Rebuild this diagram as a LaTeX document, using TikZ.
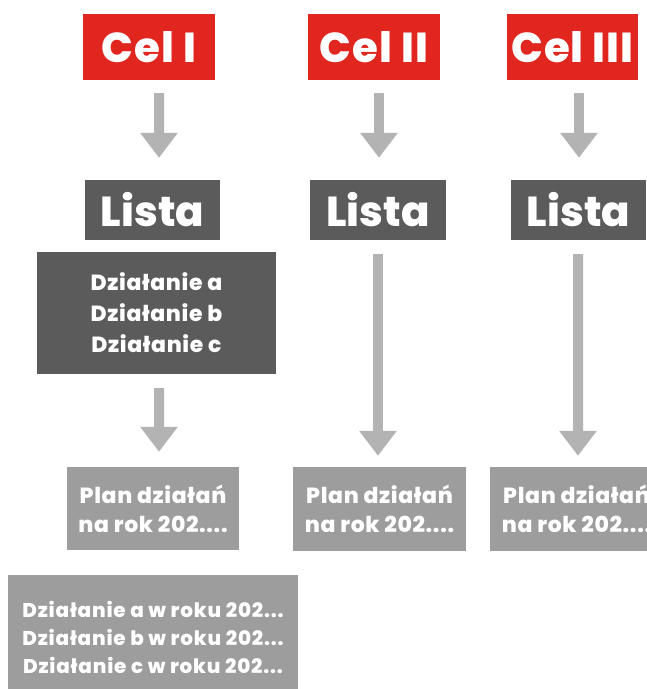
\documentclass[tikz,border=0pt]{standalone}
\usepackage{fontspec}
\setmainfont{Poppins}[BoldFont={Poppins ExtraBold}]
\usetikzlibrary{arrows.meta,calc}
\definecolor{celred}{HTML}{E0261F}
\definecolor{darkbox}{HTML}{5B5B5B}
\definecolor{lightbox}{HTML}{9D9D9D}
\definecolor{arrowgray}{HTML}{B3B3B3}
\begin{document}
\begin{tikzpicture}[x=1bp,y=1bp,
  box/.style={rectangle,inner sep=0pt,text=white,align=center,font=\bfseries},
  celbox/.style={box,fill=celred,minimum width=132bp,minimum height=66bp,font=\bfseries\fontsize{42}{46}\selectfont\addfontfeatures{LetterSpace=2.5}},
  listabox/.style={box,fill=darkbox,minimum width=135bp,minimum height=60bp,font=\bfseries\fontsize{42}{46}\selectfont},
  actbox/.style={box,fill=darkbox,minimum width=239bp,minimum height=122bp,font=\bfseries\fontsize{22}{31}\selectfont\addfontfeatures{LetterSpace=3}},
  planbox/.style={box,fill=lightbox,minimum width=173bp,minimum height=84bp,font=\bfseries\fontsize{22}{29}\selectfont\addfontfeatures{LetterSpace=3}},
  finalbox/.style={box,fill=lightbox,minimum width=290bp,minimum height=125bp,font=\bfseries\fontsize{20}{28}\selectfont\addfontfeatures{LetterSpace=4}},
  blk/.style={draw=arrowgray,line width=10bp,-{Triangle[width=36bp,length=25bp,fill=arrowgray]}}
]
\useasboundingbox (0,0) rectangle (647,-689);
\clip (0,0) rectangle (647,-689);
\node[celbox] (c1) at (149,-47) {Cel I};
\node[celbox] (c2) at (374,-47) {Cel II};
\node[celbox,minimum width=131bp] (c3) at (572.5,-47) {Cel III};
\node[listabox] (l1) at (152.5,-210) {Lista};
\node[listabox,minimum width=136bp] (l2) at (378,-210) {Lista};
\node[listabox] (l3) at (578.5,-210) {Lista};
\node[actbox] (d1) at (156.5,-313) {Działanie a\\Działanie b\\Działanie c};
\node[planbox,minimum width=172bp,minimum height=83bp] (p1) at (153,-508.5) {Plan działań\\na rok 202....};
\node[planbox] (p2) at (379.5,-509) {Plan działań\\na rok 202....};
\node[planbox] (p3) at (576.5,-509) {Plan działań\\na rok 202....};
\node[finalbox] (f1) at (153,-637.5) {Działanie a w roku 202...\\Działanie b w roku 202...\\Działanie c w roku 202...};
\draw[blk] ($(c1.south)+(10,-13)$) -- ($(l1.north)+(6.5,22)$);
\draw[blk] ($(c2.south)+(5,-13)$) -- ($(l2.north)+(1,22)$);
\draw[blk] ($(c3.south)+(6.5,-13)$) -- ($(l3.north)+(0.5,22)$);
\draw[blk] ($(d1.south)+(2.5,-14)$) -- ($(p1.north)+(6,15)$);
\draw[blk] ($(l2.south)+(0,-14)$) -- ($(p2.north)+(-1.5,11)$);
\draw[blk] ($(l3.south)+(-0.5,-14)$) -- ($(p3.north)+(1.5,11)$);
\end{tikzpicture}
\end{document}
